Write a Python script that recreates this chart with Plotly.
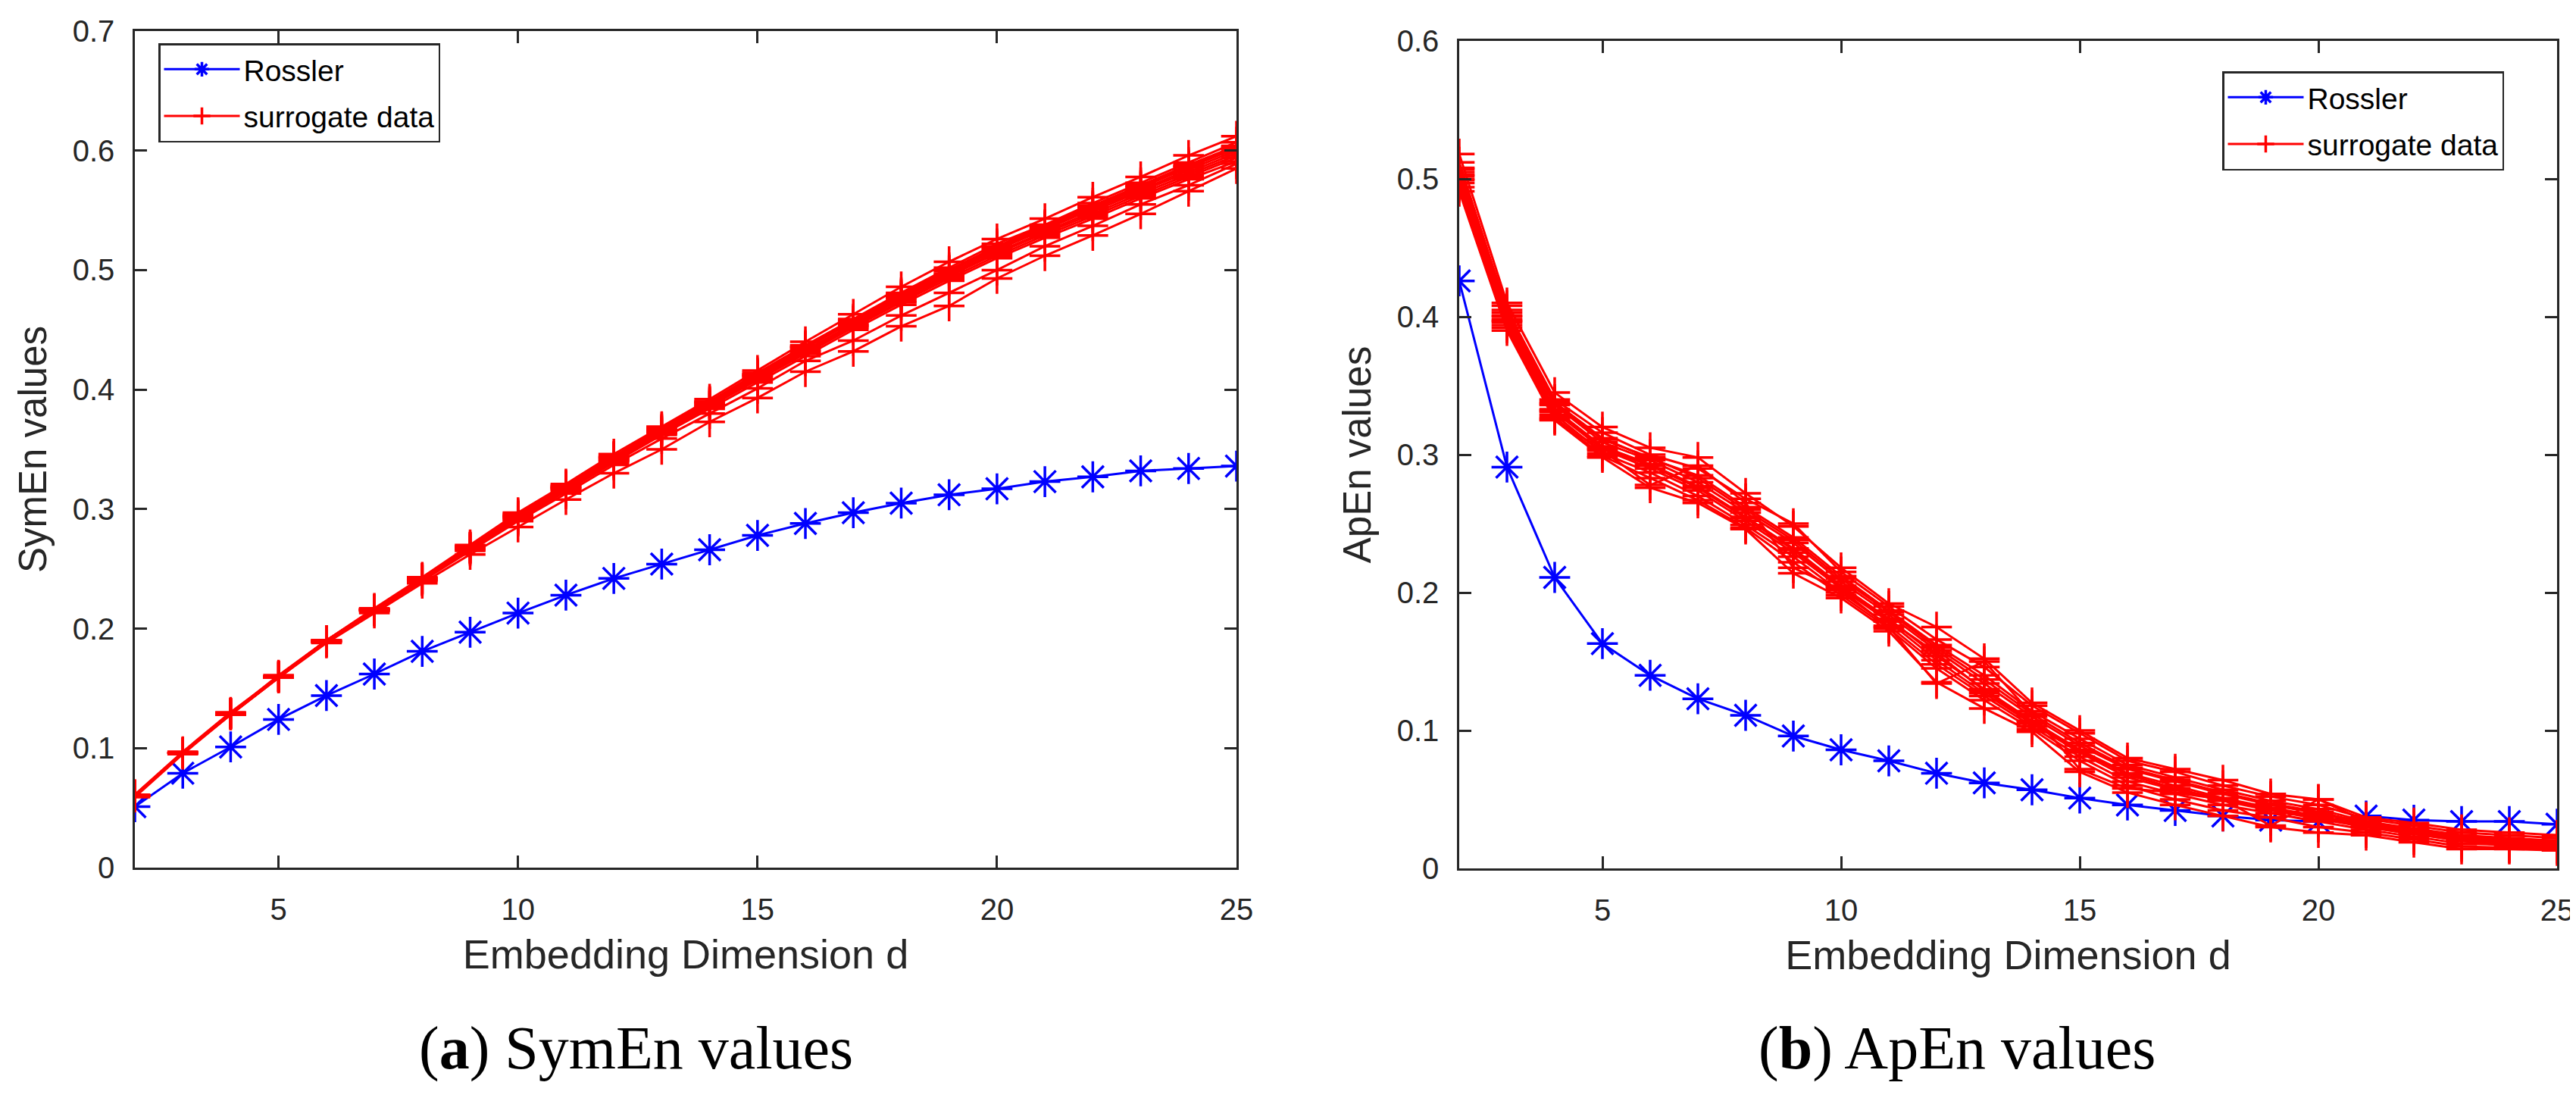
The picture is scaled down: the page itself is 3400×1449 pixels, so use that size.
import plotly.graph_objects as go

# embedding dimension d
dims = list(range(2, 26))

# (a) SymEn values
symen_rossler = [0.051, 0.079, 0.101, 0.124, 0.144, 0.162, 0.181, 0.197, 0.213, 0.228, 0.242, 0.254,
                 0.266, 0.278, 0.288, 0.297, 0.305, 0.312, 0.317, 0.323, 0.327, 0.332, 0.334, 0.336]

symen_surr_01 = [0.060, 0.096, 0.129, 0.160, 0.190, 0.217, 0.243, 0.270, 0.297, 0.321, 0.346, 0.369,
                 0.392, 0.416, 0.440, 0.463, 0.486, 0.507, 0.526, 0.543, 0.561, 0.578, 0.596, 0.612]
symen_surr_02 = [0.060, 0.096, 0.129, 0.161, 0.190, 0.216, 0.242, 0.269, 0.296, 0.320, 0.344, 0.368,
                 0.390, 0.414, 0.437, 0.459, 0.481, 0.502, 0.522, 0.538, 0.556, 0.573, 0.590, 0.607]
symen_surr_03 = [0.061, 0.097, 0.130, 0.160, 0.189, 0.216, 0.242, 0.268, 0.294, 0.318, 0.343, 0.366,
                 0.389, 0.412, 0.435, 0.457, 0.478, 0.499, 0.518, 0.535, 0.552, 0.569, 0.586, 0.602]
symen_surr_04 = [0.060, 0.096, 0.129, 0.160, 0.190, 0.216, 0.241, 0.267, 0.293, 0.317, 0.341, 0.364,
                 0.387, 0.410, 0.432, 0.454, 0.476, 0.496, 0.515, 0.532, 0.549, 0.566, 0.582, 0.598]
symen_surr_05 = [0.059, 0.095, 0.128, 0.159, 0.189, 0.215, 0.241, 0.267, 0.292, 0.316, 0.340, 0.363,
                 0.386, 0.408, 0.430, 0.452, 0.473, 0.493, 0.512, 0.529, 0.545, 0.562, 0.578, 0.594]
symen_surr_06 = [0.060, 0.096, 0.129, 0.160, 0.190, 0.216, 0.242, 0.268, 0.294, 0.318, 0.342, 0.365,
                 0.388, 0.411, 0.433, 0.455, 0.477, 0.497, 0.517, 0.534, 0.551, 0.567, 0.584, 0.600]
symen_surr_07 = [0.060, 0.096, 0.128, 0.159, 0.189, 0.215, 0.240, 0.266, 0.291, 0.315, 0.339, 0.362,
                 0.384, 0.406, 0.428, 0.450, 0.471, 0.491, 0.510, 0.527, 0.543, 0.560, 0.576, 0.591]
symen_surr_08 = [0.061, 0.096, 0.129, 0.160, 0.190, 0.216, 0.242, 0.268, 0.295, 0.319, 0.344, 0.367,
                 0.390, 0.413, 0.436, 0.458, 0.480, 0.500, 0.520, 0.537, 0.554, 0.571, 0.588, 0.604]
symen_surr_09 = [0.060, 0.096, 0.129, 0.160, 0.189, 0.215, 0.240, 0.265, 0.290, 0.313, 0.337, 0.359,
                 0.380, 0.401, 0.424, 0.441, 0.462, 0.481, 0.500, 0.520, 0.537, 0.555, 0.571, 0.589]
symen_surr_10 = [0.060, 0.096, 0.129, 0.159, 0.188, 0.213, 0.238, 0.262, 0.285, 0.308, 0.330, 0.350,
                 0.373, 0.393, 0.415, 0.432, 0.453, 0.470, 0.493, 0.512, 0.529, 0.547, 0.566, 0.585]
symen_surr_11 = [0.060, 0.096, 0.129, 0.160, 0.190, 0.216, 0.242, 0.268, 0.294, 0.319, 0.343, 0.366,
                 0.389, 0.412, 0.435, 0.457, 0.479, 0.500, 0.519, 0.536, 0.553, 0.570, 0.587, 0.603]
symen_surr_12 = [0.060, 0.096, 0.128, 0.159, 0.189, 0.215, 0.241, 0.267, 0.293, 0.317, 0.341, 0.364,
                 0.386, 0.409, 0.431, 0.453, 0.474, 0.495, 0.514, 0.531, 0.547, 0.564, 0.580, 0.596]

# (b) ApEn values
apen_rossler = [0.426, 0.291, 0.211, 0.163, 0.140, 0.123, 0.111, 0.096, 0.086, 0.078, 0.069, 0.062,
                0.057, 0.051, 0.046, 0.042, 0.038, 0.035, 0.034, 0.038, 0.035, 0.034, 0.034, 0.032]

apen_surr_01 = [0.518, 0.410, 0.345, 0.320, 0.305, 0.298, 0.272, 0.248, 0.218, 0.192, 0.175, 0.152,
                0.120, 0.100, 0.080, 0.072, 0.064, 0.054, 0.050, 0.037, 0.033, 0.028, 0.026, 0.024]
apen_surr_02 = [0.512, 0.405, 0.340, 0.316, 0.300, 0.290, 0.268, 0.250, 0.215, 0.190, 0.166, 0.146,
                0.118, 0.098, 0.078, 0.070, 0.060, 0.052, 0.046, 0.036, 0.031, 0.026, 0.024, 0.022]
apen_surr_03 = [0.508, 0.403, 0.338, 0.312, 0.297, 0.285, 0.262, 0.240, 0.212, 0.187, 0.162, 0.140,
                0.114, 0.094, 0.075, 0.066, 0.057, 0.049, 0.043, 0.034, 0.029, 0.024, 0.022, 0.020]
apen_surr_04 = [0.505, 0.400, 0.336, 0.309, 0.296, 0.280, 0.258, 0.236, 0.208, 0.184, 0.158, 0.134,
                0.110, 0.089, 0.072, 0.063, 0.054, 0.046, 0.040, 0.032, 0.027, 0.022, 0.020, 0.018]
apen_surr_05 = [0.502, 0.398, 0.333, 0.306, 0.293, 0.277, 0.255, 0.232, 0.205, 0.181, 0.154, 0.130,
                0.107, 0.086, 0.069, 0.060, 0.051, 0.044, 0.038, 0.031, 0.026, 0.021, 0.019, 0.017]
apen_surr_06 = [0.500, 0.396, 0.331, 0.304, 0.290, 0.274, 0.252, 0.229, 0.203, 0.179, 0.151, 0.127,
                0.105, 0.084, 0.066, 0.057, 0.049, 0.042, 0.036, 0.030, 0.025, 0.020, 0.018, 0.016]
apen_surr_07 = [0.497, 0.394, 0.329, 0.301, 0.287, 0.270, 0.249, 0.226, 0.200, 0.176, 0.148, 0.125,
                0.103, 0.081, 0.063, 0.054, 0.046, 0.040, 0.034, 0.028, 0.023, 0.018, 0.017, 0.015]
apen_surr_08 = [0.494, 0.392, 0.327, 0.299, 0.283, 0.267, 0.247, 0.222, 0.198, 0.174, 0.145, 0.122,
                0.101, 0.078, 0.060, 0.050, 0.042, 0.037, 0.030, 0.026, 0.021, 0.016, 0.015, 0.014]
apen_surr_09 = [0.491, 0.390, 0.325, 0.298, 0.276, 0.265, 0.246, 0.214, 0.196, 0.172, 0.135, 0.116,
                0.099, 0.070, 0.055, 0.046, 0.038, 0.030, 0.026, 0.024, 0.019, 0.014, 0.014, 0.013]
apen_surr_10 = [0.503, 0.408, 0.326, 0.303, 0.278, 0.292, 0.265, 0.218, 0.202, 0.175, 0.134, 0.150,
                0.112, 0.072, 0.058, 0.055, 0.050, 0.031, 0.050, 0.034, 0.026, 0.020, 0.016, 0.015]
apen_surr_11 = [0.507, 0.401, 0.337, 0.311, 0.298, 0.283, 0.260, 0.238, 0.210, 0.186, 0.160, 0.137,
                0.112, 0.091, 0.073, 0.064, 0.055, 0.047, 0.041, 0.033, 0.028, 0.023, 0.021, 0.019]
apen_surr_12 = [0.499, 0.397, 0.332, 0.305, 0.292, 0.276, 0.254, 0.231, 0.204, 0.180, 0.156, 0.129,
                0.106, 0.085, 0.068, 0.058, 0.050, 0.043, 0.037, 0.030, 0.025, 0.020, 0.019, 0.017]

symen_surrogates = [symen_surr_01, symen_surr_02, symen_surr_03, symen_surr_04, symen_surr_05, symen_surr_06,
                    symen_surr_07, symen_surr_08, symen_surr_09, symen_surr_10, symen_surr_11, symen_surr_12]
apen_surrogates = [apen_surr_01, apen_surr_02, apen_surr_03, apen_surr_04, apen_surr_05, apen_surr_06,
                   apen_surr_07, apen_surr_08, apen_surr_09, apen_surr_10, apen_surr_11, apen_surr_12]

BLUE = "#0000FF"
RED = "#FF0000"
AXC = "#262626"
SANS = "Liberation Sans, Arial, sans-serif"
SERIF = "Liberation Serif, Times New Roman, serif"

rossler_style = dict(
    line=dict(color=BLUE, width=3),
    marker=dict(symbol="asterisk-open", size=34, color=BLUE, line=dict(color=BLUE, width=3.5)))
surr_style = dict(
    line=dict(color=RED, width=3),
    marker=dict(symbol="cross-thin-open", size=29, color=RED, line=dict(color=RED, width=3.5)))

fig = go.Figure()

# === panel a ===
fig.add_trace(go.Scatter(x=dims, y=symen_rossler, mode="lines+markers", name="Rossler",
                         legendgroup="ra", xaxis="x", yaxis="y", legend="legend", **rossler_style))
for i, s in enumerate(symen_surrogates):
    fig.add_trace(go.Scatter(x=dims, y=s, mode="lines+markers", name="surrogate data",
                             legendgroup="sa", showlegend=(i == 0),
                             xaxis="x", yaxis="y", legend="legend", **surr_style))

# === panel b ===
fig.add_trace(go.Scatter(x=dims, y=apen_rossler, mode="lines+markers", name="Rossler",
                         legendgroup="rb", xaxis="x2", yaxis="y2", legend="legend2", **rossler_style))
for i, s in enumerate(apen_surrogates):
    fig.add_trace(go.Scatter(x=dims, y=s, mode="lines+markers", name="surrogate data",
                             legendgroup="sb", showlegend=(i == 0),
                             xaxis="x2", yaxis="y2", legend="legend2", **surr_style))

W, H = 3400, 1449

axis_common = dict(
    showline=True, linecolor=AXC, linewidth=2.5, mirror="ticks",
    ticks="inside", ticklen=16, tickwidth=2.5, tickcolor=AXC,
    showgrid=False, zeroline=False, automargin=False,
    tickfont=dict(family=SANS, size=40, color=AXC),
)

x_title = dict(text="Embedding Dimension d", font=dict(family=SANS, size=54, color=AXC), standoff=20)

legend_common = dict(
    xanchor="left", yanchor="top", bgcolor="white", bordercolor=AXC, borderwidth=2.5,
    font=dict(family=SANS, size=39, color="black"), itemwidth=100,
    traceorder="grouped", tracegroupgap=8,
)

fig.update_layout(
    width=W, height=H,
    margin=dict(l=0, r=0, t=0, b=0),
    paper_bgcolor="white", plot_bgcolor="white",
    xaxis=dict(axis_common, domain=[170 / W, 1624 / W], range=[2, 25],
               tickvals=[5, 10, 15, 20, 25], anchor="y", title=x_title, ticklabelstandoff=18),
    yaxis=dict(axis_common, domain=[1 - 1137 / H, 1 - 33 / H], range=[0, 0.7], dtick=0.1,
               anchor="x", ticklabelstandoff=16,
               title=dict(text="SymEn values", font=dict(family=SANS, size=51, color=AXC), standoff=18)),
    xaxis2=dict(axis_common, domain=[1918 / W, 3367 / W], range=[2, 25],
                tickvals=[5, 10, 15, 20, 25], anchor="y2", title=x_title, ticklabelstandoff=18),
    yaxis2=dict(axis_common, domain=[1 - 1138 / H, 1 - 46 / H], range=[0, 0.6], dtick=0.1,
                anchor="x2", ticklabelstandoff=16,
                title=dict(text="ApEn values", font=dict(family=SANS, size=51, color=AXC), standoff=18)),
    legend=dict(legend_common, x=201 / W, y=1 - 49 / H),
    legend2=dict(legend_common, x=2925 / W, y=1 - 86 / H),
    annotations=[
        dict(text="(<b>a</b>) SymEn values", x=831 / W, y=1 - 1375 / H, xref="paper", yref="paper",
             xanchor="center", yanchor="middle", showarrow=False,
             font=dict(family=SERIF, size=80, color="black")),
        dict(text="(<b>b</b>) ApEn values", x=2575 / W, y=1 - 1375 / H, xref="paper", yref="paper",
             xanchor="center", yanchor="middle", showarrow=False,
             font=dict(family=SERIF, size=80, color="black")),
    ],
)

fig.write_html("out.html")
